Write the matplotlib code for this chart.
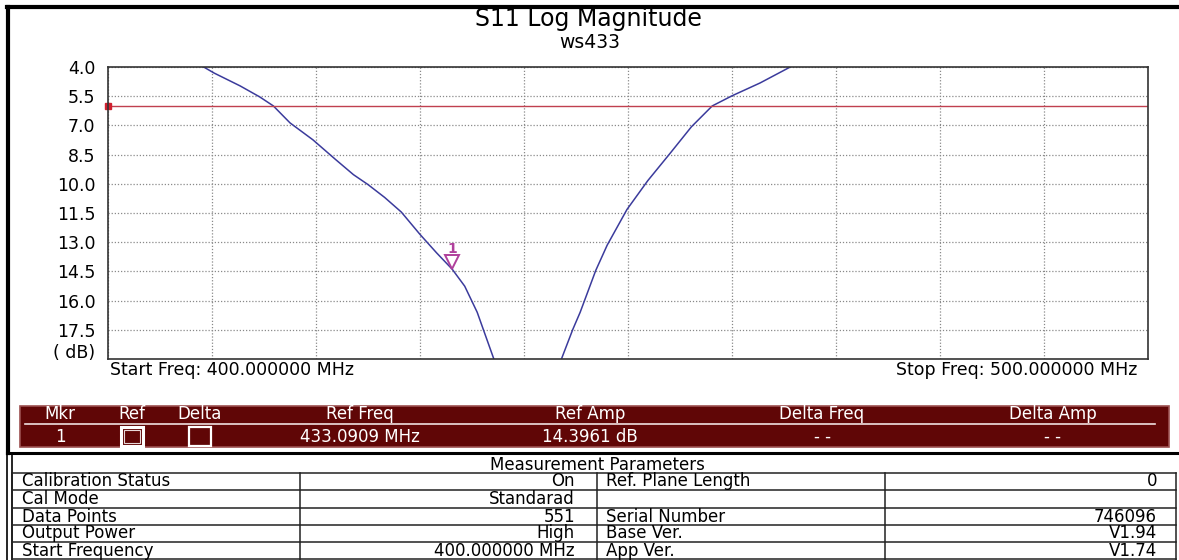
import matplotlib
matplotlib.use("Agg")
import matplotlib.pyplot as plt
from matplotlib.patches import Rectangle
from matplotlib.lines import Line2D
import matplotlib.transforms as mtransforms

W, H = 1179, 560

# trace (MHz, dB return loss), two visible branches
left_freq = [409.2, 410.2, 412.7, 414.6, 415.9, 417.5, 419.7, 421.9, 423.6, 425.0,
             426.6, 428.2, 430.0, 431.6, 433.1, 434.3, 435.5, 437.1]
left_db = [4.00, 4.31, 4.97, 5.54, 6.00, 6.87, 7.74, 8.76, 9.53, 10.04,
           10.70, 11.45, 12.60, 13.55, 14.39, 15.26, 16.60, 19.00]
right_freq = [443.6, 444.7, 445.4, 446.9, 448.0, 449.9, 451.9, 454.1, 456.1, 458.1,
              460.0, 462.7, 465.6]
right_db = [19.00, 17.47, 16.60, 14.45, 13.15, 11.32, 9.84, 8.40, 7.07, 6.00,
            5.48, 4.82, 4.00]

ref_level = 6.0
mkr_freq = 433.0909
mkr_db = 14.3961
y_ticks = [4.0, 5.5, 7.0, 8.5, 10.0, 11.5, 13.0, 14.5, 16.0, 17.5]

mkr_header = ["Mkr", "Ref", "Delta", "Ref Freq", "Ref Amp", "Delta Freq", "Delta Amp"]
mkr_row = ["1", "", "", "433.0909 MHz", "14.3961 dB", "- -", "- -"]
mkr_cols = [60, 132, 200, 360, 590, 822, 1053]

param_names = ["Calibration Status", "Cal Mode", "Data Points", "Output Power", "Start Frequency"]
param_values = ["On", "Standarad", "551", "High", "400.000000 MHz"]
info_names = ["Ref. Plane Length", "", "Serial Number", "Base Ver.", "App Ver."]
info_values = ["0", "", "746096", "V1.94", "V1.74"]

plt.rcParams['font.family'] = ['DejaVu Sans']

fig = plt.figure(figsize=(W / 100, H / 100), dpi=100)
fig.patch.set_facecolor('white')


def fx(px):
    return px / W


def fy(py):
    return 1 - py / H


def hline(y, x0, x1, lw=1.0, color='black'):
    fig.add_artist(Line2D([fx(x0), fx(x1)], [fy(y), fy(y)], color=color, lw=lw))


def vline(x, y0, y1, lw=1.0, color='black'):
    fig.add_artist(Line2D([fx(x), fx(x)], [fy(y0), fy(y1)], color=color, lw=lw))


def ftext(x, y, s, size=11, ha='left', color='black'):
    fig.text(fx(x), fy(y), s, fontsize=size, ha=ha, va='center', color=color)


# main plot
px0, px1, py0, py1 = 108, 1148, 67, 359
ax = fig.add_axes([fx(px0), fy(py1), fx(px1 - px0), (py1 - py0) / H])
ax.plot(left_freq, left_db, color='#3b3b9c', lw=1.1)
ax.plot(right_freq, right_db, color='#3b3b9c', lw=1.1)
ax.axhline(ref_level, color='#c0404f', lw=1.0)
ax.plot([400], [ref_level], 's', color='#d0202f', ms=4, clip_on=False)

ax.set_xlim(400, 500)
ax.set_ylim(19.0, 4.0)
ax.set_xticks(range(400, 501, 10))
ax.set_yticks(y_ticks)
ax.set_yticklabels([f"{v:.1f}" for v in y_ticks], fontsize=12.5)
ax.tick_params(axis='y', length=0, pad=9)
ax.tick_params(axis='x', length=0, labelbottom=False)
ax.grid(True, color='#8a8a8a', ls=(0, (1, 1.5)), lw=0.9)
for s in ax.spines.values():
    s.set_color('#333333')
    s.set_linewidth(1.2)
ax.text(-0.012, 0.02, "( dB)", transform=ax.transAxes, ha='right', va='center', fontsize=12.5)

# marker 1: hollow triangle sitting on the trace
up = mtransforms.ScaledTranslation(0, 5 / 72, fig.dpi_scale_trans)
ax.plot([mkr_freq], [mkr_db], marker='v', ms=10, mfc='white', mec='#b0409c', mew=1.4,
        transform=ax.transData + up, zorder=5)
ax.annotate("1", (mkr_freq, mkr_db), xytext=(0, 15), textcoords='offset points',
            ha='center', va='center', color='#b0409c', fontsize=10, fontweight='bold')

ftext(110, 370, "Start Freq: 400.000000 MHz", size=12.5)
ftext(1137, 370, "Stop Freq: 500.000000 MHz", size=12.5, ha='right')

# titles
ftext(588, 19, "S11 Log Magnitude", size=17, ha='center')
ftext(590, 42, "ws433", size=13.5, ha='center')

# outer panel frames
hline(7, 7, W, lw=3)
vline(8, 7, 453, lw=3)
hline(453, 7, W, lw=2.2)
vline(7, 453, H, lw=1.2)
vline(12, 453, H, lw=1.2)

# marker table band
fig.add_artist(Rectangle((fx(20), fy(447)), fx(1149), (447 - 406) / H,
                         facecolor='#600606', edgecolor='#9c5050', lw=1.2))
hline(424, 25, 1155, lw=1.2, color='#f0e0e0')
for x, h, r in zip(mkr_cols, mkr_header, mkr_row):
    ftext(x, 414, h, size=12, ha='center', color='white')
    if r:
        ftext(x, 437, r, size=12, ha='center', color='white')
# Ref / Delta check boxes
fig.add_artist(Rectangle((fx(121), fy(446)), fx(22), 19 / H,
                         facecolor='#600606', edgecolor='white', lw=2.2))
fig.add_artist(Rectangle((fx(124), fy(443)), fx(16), 13 / H,
                         facecolor='#600606', edgecolor='#e8d8d8', lw=0.8))
fig.add_artist(Rectangle((fx(189), fy(446)), fx(22), 19 / H,
                         facecolor='#600606', edgecolor='white', lw=1.6))

# measurement parameters table
ftext(597, 465, "Measurement Parameters", size=12, ha='center')
row_lines = [473, 490, 508, 525, 542, 559]
for y in row_lines:
    hline(y, 12, 1176, lw=1.1, color='#222222')
for x in [12, 300, 597, 885, 1176]:
    vline(x, 473, H, lw=1.1, color='#222222')
for i in range(len(param_names)):
    yc = (row_lines[i] + row_lines[i + 1]) / 2
    ftext(22, yc, param_names[i], size=12)
    ftext(575, yc, param_values[i], size=12, ha='right')
    ftext(606, yc, info_names[i], size=12)
    ftext(1157, yc, info_values[i], size=12, ha='right')

fig.savefig("out.png", dpi=100)
